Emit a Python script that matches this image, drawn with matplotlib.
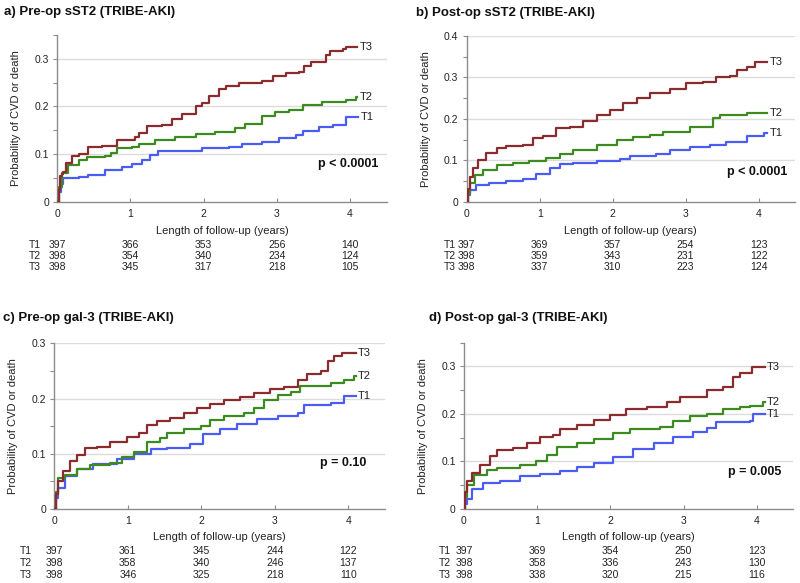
import matplotlib
matplotlib.use("Agg")
import matplotlib.pyplot as plt
import matplotlib.transforms as mtransforms
from matplotlib.ticker import MultipleLocator

plt.rcParams['font.family'] = ['Liberation Sans', 'DejaVu Sans']

# ---- data (cumulative probability, step points) ----
# panel a) Pre-op sST2
a_t3_x = [0, 0.02, 0.04, 0.06, 0.08, 0.12, 0.2, 0.29, 0.42, 0.61, 0.81, 1.06, 1.11, 1.22, 1.43, 1.57, 1.70,
          1.89, 1.98, 2.07, 2.21, 2.30, 2.48, 2.80, 2.94, 3.12, 3.30, 3.37, 3.46, 3.67, 3.73, 3.90, 3.94, 4.10]
a_t3_y = [0, 0.025, 0.053, 0.058, 0.063, 0.081, 0.095, 0.100, 0.114, 0.117, 0.129, 0.135, 0.144, 0.158, 0.161,
          0.173, 0.184, 0.200, 0.207, 0.221, 0.236, 0.243, 0.250, 0.254, 0.264, 0.270, 0.273, 0.284, 0.294,
          0.308, 0.317, 0.320, 0.324, 0.324]
a_t2_x = [0, 0.02, 0.06, 0.15, 0.29, 0.40, 0.65, 0.74, 0.81, 1.02, 1.11, 1.34, 1.61, 1.89, 2.16, 2.43, 2.57,
          2.80, 2.98, 3.16, 3.35, 3.62, 3.94, 4.08, 4.10]
a_t2_y = [0, 0.030, 0.060, 0.077, 0.087, 0.094, 0.096, 0.103, 0.112, 0.115, 0.122, 0.129, 0.136, 0.142, 0.147,
          0.154, 0.164, 0.180, 0.188, 0.193, 0.202, 0.210, 0.213, 0.220, 0.220]
a_t1_x = [0, 0.02, 0.05, 0.08, 0.29, 0.42, 0.65, 0.88, 1.02, 1.16, 1.27, 1.38, 1.98, 2.34, 2.53, 2.80, 3.03,
          3.26, 3.35, 3.58, 3.76, 3.94, 4.11]
a_t1_y = [0, 0.020, 0.038, 0.049, 0.052, 0.057, 0.066, 0.072, 0.080, 0.087, 0.098, 0.107, 0.112, 0.115, 0.121,
          0.126, 0.133, 0.140, 0.149, 0.156, 0.161, 0.177, 0.177]

# panel b) Post-op sST2
b_t3_x = [0, 0.02, 0.04, 0.09, 0.15, 0.27, 0.41, 0.54, 0.77, 0.91, 1.05, 1.23, 1.41, 1.60, 1.78, 1.96, 2.14,
          2.33, 2.51, 2.78, 3.01, 3.24, 3.42, 3.61, 3.70, 3.84, 3.95, 4.12]
b_t3_y = [0, 0.030, 0.060, 0.082, 0.100, 0.117, 0.129, 0.135, 0.137, 0.153, 0.159, 0.177, 0.181, 0.196, 0.209,
          0.222, 0.239, 0.250, 0.262, 0.271, 0.286, 0.290, 0.300, 0.304, 0.318, 0.326, 0.337, 0.337]
b_t2_x = [0, 0.02, 0.04, 0.11, 0.22, 0.41, 0.63, 0.86, 1.09, 1.28, 1.46, 1.78, 2.06, 2.28, 2.51, 2.69, 3.06,
          3.38, 3.47, 3.84, 4.12]
b_t2_y = [0, 0.022, 0.044, 0.064, 0.077, 0.089, 0.094, 0.099, 0.105, 0.115, 0.125, 0.137, 0.149, 0.156, 0.161,
          0.169, 0.181, 0.201, 0.209, 0.215, 0.215]
b_t1_x = [0, 0.02, 0.04, 0.13, 0.31, 0.54, 0.77, 0.95, 1.14, 1.28, 1.46, 1.78, 2.10, 2.24, 2.60, 2.78, 3.06,
          3.33, 3.56, 3.84, 4.07, 4.12]
b_t1_y = [0, 0.015, 0.028, 0.040, 0.045, 0.050, 0.055, 0.067, 0.082, 0.090, 0.094, 0.099, 0.103, 0.111, 0.114,
          0.125, 0.131, 0.137, 0.145, 0.159, 0.166, 0.166]

# panel c) Pre-op gal-3
c_t3_x = [0, 0.02, 0.05, 0.12, 0.21, 0.31, 0.42, 0.58, 0.76, 0.99, 1.15, 1.26, 1.40, 1.58, 1.76, 1.94, 2.12,
          2.31, 2.53, 2.72, 2.94, 3.12, 3.31, 3.44, 3.63, 3.72, 3.81, 3.92, 4.10]
c_t3_y = [0, 0.028, 0.050, 0.068, 0.086, 0.097, 0.110, 0.113, 0.122, 0.131, 0.138, 0.152, 0.160, 0.165, 0.174,
          0.183, 0.190, 0.198, 0.202, 0.210, 0.218, 0.220, 0.233, 0.244, 0.249, 0.268, 0.277, 0.283, 0.283]
c_t2_x = [0, 0.02, 0.05, 0.15, 0.31, 0.49, 0.76, 0.92, 1.08, 1.26, 1.44, 1.53, 1.76, 1.99, 2.12, 2.31, 2.58,
          2.72, 2.85, 3.04, 3.22, 3.35, 3.53, 3.76, 3.94, 4.08, 4.10]
c_t2_y = [0, 0.030, 0.056, 0.062, 0.073, 0.079, 0.083, 0.095, 0.104, 0.122, 0.128, 0.138, 0.145, 0.150, 0.162,
          0.168, 0.174, 0.183, 0.198, 0.207, 0.212, 0.222, 0.223, 0.228, 0.234, 0.240, 0.240]
c_t1_x = [0, 0.02, 0.05, 0.15, 0.31, 0.53, 0.85, 1.08, 1.31, 1.53, 1.85, 2.03, 2.26, 2.49, 2.76, 3.04, 3.31,
          3.40, 3.76, 3.94, 4.10]
c_t1_y = [0, 0.020, 0.038, 0.060, 0.072, 0.081, 0.090, 0.099, 0.108, 0.111, 0.118, 0.136, 0.145, 0.153, 0.163,
          0.168, 0.174, 0.188, 0.192, 0.204, 0.204]

# panel d) Post-op gal-3
d_t3_x = [0, 0.02, 0.04, 0.11, 0.22, 0.36, 0.45, 0.67, 0.86, 1.04, 1.22, 1.31, 1.54, 1.77, 1.99, 2.22, 2.50,
          2.77, 2.95, 3.32, 3.54, 3.68, 3.77, 3.93, 4.11]
d_t3_y = [0, 0.035, 0.058, 0.075, 0.093, 0.111, 0.124, 0.128, 0.138, 0.152, 0.156, 0.168, 0.177, 0.187, 0.198,
          0.210, 0.215, 0.226, 0.236, 0.250, 0.257, 0.278, 0.287, 0.298, 0.298]
d_t2_x = [0, 0.02, 0.04, 0.13, 0.31, 0.45, 0.77, 0.99, 1.13, 1.27, 1.54, 1.77, 2.04, 2.27, 2.68, 2.86, 3.09,
          3.32, 3.54, 3.77, 3.91, 4.09, 4.11]
d_t2_y = [0, 0.025, 0.051, 0.072, 0.082, 0.086, 0.093, 0.100, 0.114, 0.131, 0.138, 0.147, 0.159, 0.169, 0.173,
          0.186, 0.195, 0.200, 0.211, 0.214, 0.217, 0.225, 0.225]
d_t1_x = [0, 0.02, 0.04, 0.11, 0.26, 0.49, 0.77, 1.04, 1.31, 1.54, 1.77, 2.04, 2.31, 2.59, 2.86, 3.13, 3.32,
          3.45, 3.91, 3.95, 4.11]
d_t1_y = [0, 0.010, 0.022, 0.043, 0.054, 0.058, 0.069, 0.074, 0.081, 0.088, 0.097, 0.109, 0.127, 0.138, 0.152,
          0.162, 0.170, 0.184, 0.185, 0.199, 0.199]

# numbers at risk (at 0, 1, 2, 3, 4 years)
a_risk = [[397, 366, 353, 256, 140], [398, 354, 340, 234, 124], [398, 345, 317, 218, 105]]
b_risk = [[397, 369, 357, 254, 123], [398, 359, 343, 231, 122], [398, 337, 310, 223, 124]]
c_risk = [[397, 361, 345, 244, 122], [398, 358, 340, 246, 137], [398, 346, 325, 218, 110]]
d_risk = [[397, 369, 354, 250, 123], [398, 358, 336, 243, 130], [398, 338, 320, 215, 116]]

titles = ['a) Pre-op sST2 (TRIBE-AKI)', 'b) Post-op sST2 (TRIBE-AKI)',
          'c) Pre-op gal-3 (TRIBE-AKI)', 'd) Post-op gal-3 (TRIBE-AKI)']
pvals = ['p < 0.0001', 'p < 0.0001', 'p = 0.10', 'p = 0.005']
group_names = ['T1', 'T2', 'T3']
risk_times = [0, 1, 2, 3, 4]

colors = {'T1': '#4b5cf2', 'T2': '#3c8a20', 'T3': '#8a2c2e'}

W, H = 800, 583
fig = plt.figure(figsize=(8.0, 5.83), dpi=100)


def px(x, y):
    # pixel position -> figure fraction
    return x / W, 1 - y / H


panels = [
    # axes box in pixels (left, top, right, bottom), ymax, yticks, title pos, pval pos, risk label x, row ys, xlabel y
    dict(box=(57.3, 35, 386.7, 201.7), ymax=0.35, yt=[0, 0.1, 0.2, 0.3], tpos=(4, 11.5),
         ppos=(4.39, 0.079), rx=29, rows=(244.5, 256, 267.5), xly=230.5,
         data=[(a_t1_x, a_t1_y), (a_t2_x, a_t2_y), (a_t3_x, a_t3_y)], risk=a_risk),
    dict(box=(466.7, 36, 795, 201.7), ymax=0.4, yt=[0, 0.1, 0.2, 0.3, 0.4], tpos=(416, 13),
         ppos=(4.39, 0.0725), rx=444, rows=(244.5, 256, 267.5), xly=230.5,
         data=[(b_t1_x, b_t1_y), (b_t2_x, b_t2_y), (b_t3_x, b_t3_y)], risk=b_risk),
    dict(box=(54.3, 343.3, 385, 509), ymax=0.3, yt=[0, 0.1, 0.2, 0.3], tpos=(3, 318),
         ppos=(4.25, 0.083), rx=20, rows=(551, 563, 575.5), xly=537.5,
         data=[(c_t1_x, c_t1_y), (c_t2_x, c_t2_y), (c_t3_x, c_t3_y)], risk=c_risk),
    dict(box=(464, 342.7, 793.3, 509), ymax=0.35, yt=[0, 0.1, 0.2, 0.3], tpos=(429, 318),
         ppos=(4.34, 0.078), rx=439, rows=(551, 563, 575.5), xly=537.5,
         data=[(d_t1_x, d_t1_y), (d_t2_x, d_t2_y), (d_t3_x, d_t3_y)], risk=d_risk),
]

for i, p in enumerate(panels):
    l, t, r, b = p['box']
    ax = fig.add_axes([l / W, 1 - b / H, (r - l) / W, (b - t) / H])
    ax.set_xlim(0, 4.5)
    ax.set_ylim(0, p['ymax'])

    for gy in p['yt'][1:]:
        ax.axhline(gy, color='#dcdcdc', lw=1.0, zorder=0)

    for name, (xs, ys) in zip(group_names, p['data']):
        ax.step(xs, ys, where='post', color=colors[name], lw=1.6, zorder=3)
        ax.text(xs[-1] + 0.03, ys[-1], name, fontsize=8, color='#222222',
                ha='left', va='center')

    ax.text(p['ppos'][0], p['ppos'][1], pvals[i], fontsize=9, fontweight='bold',
            ha='right', va='center', color='#111111')

    for s in ['top', 'right']:
        ax.spines[s].set_visible(False)
    for s in ['left', 'bottom']:
        ax.spines[s].set_color('#8c8c8c')
        ax.spines[s].set_linewidth(1.0)

    ax.set_xticks([0, 1, 2, 3, 4])
    ax.set_xticklabels(['0', '1', '2', '3', '4'])
    ax.set_yticks(p['yt'])
    ax.set_yticklabels(['0' if v == 0 else f'{v:.1f}' for v in p['yt']])
    ax.yaxis.set_minor_locator(MultipleLocator(0.05))
    ax.tick_params(axis='x', direction='in', length=3, width=0.8, color='#8c8c8c',
                   labelsize=7.5, labelcolor='#222222', pad=5)
    ax.tick_params(axis='y', which='both', direction='out', length=3, width=0.8, color='#8c8c8c',
                   labelsize=7.5, labelcolor='#222222', pad=3)

    ax.set_ylabel('Probability of CVD or death', fontsize=8, color='#222222')
    ax.yaxis.set_label_coords(-36 / (r - l), 0.5)

    fig.text(*px((l + r) / 2, p['xly']), 'Length of follow-up (years)', fontsize=8,
             ha='center', va='center', color='#222222')
    fig.text(*px(*p['tpos']), titles[i], fontsize=9.5, fontweight='bold',
             ha='left', va='center', color='#111111')

    trans = mtransforms.blended_transform_factory(ax.transData, fig.transFigure)
    for name, row_y, counts in zip(group_names, p['rows'], p['risk']):
        fig.text(*px(p['rx'], row_y), name, fontsize=7.5, ha='left', va='center', color='#222222')
        for tx, n in zip(risk_times, counts):
            ax.text(tx, 1 - row_y / H, str(n), transform=trans, fontsize=7.5,
                    ha='center', va='center', color='#222222', clip_on=False)

fig.savefig('out.png', dpi=100, facecolor='white')
